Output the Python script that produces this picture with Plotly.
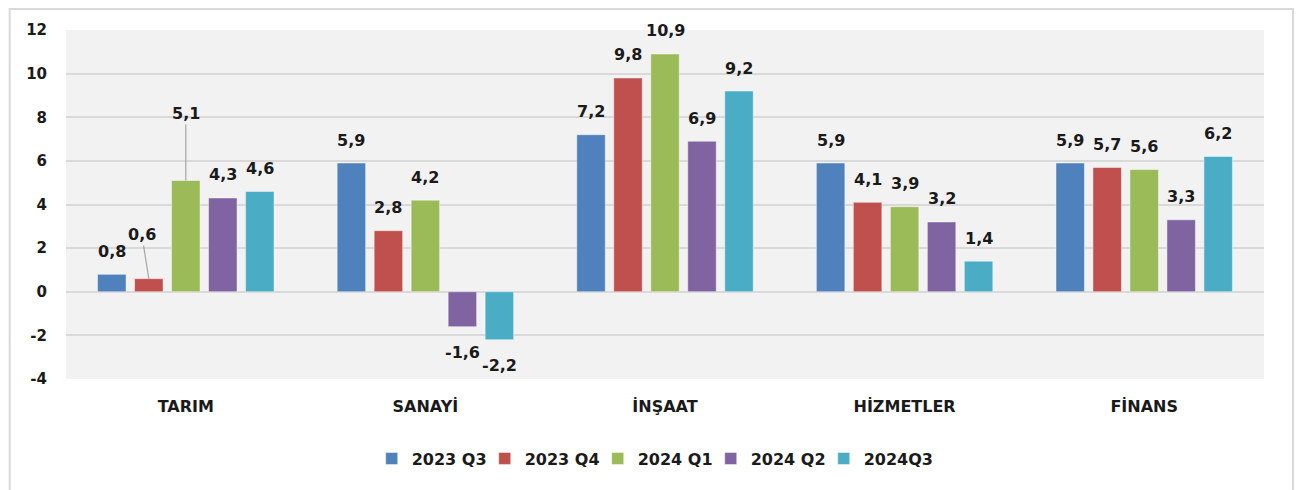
import plotly.graph_objects as go

categories = ["TARIM", "SANAYİ", "İNŞAAT", "HİZMETLER", "FİNANS"]
series_names = ["2023 Q3", "2023 Q4", "2024 Q1", "2024 Q2", "2024Q3"]
q3_2023 = [0.8, 5.9, 7.2, 5.9, 5.9]
q4_2023 = [0.6, 2.8, 9.8, 4.1, 5.7]
q1_2024 = [5.1, 4.2, 10.9, 3.9, 5.6]
q2_2024 = [4.3, -1.6, 6.9, 3.2, 3.3]
q3_2024 = [4.6, -2.2, 9.2, 1.4, 6.2]
series_values = [q3_2023, q4_2023, q1_2024, q2_2024, q3_2024]
colors = ["#4F81BD", "#C0504D", "#9BBB59", "#8064A2", "#4BACC6"]
y_ticks = [-4, -2, 0, 2, 4, 6, 8, 10, 12]

FONT = "DejaVu Sans"
TXT = "#1a1a1a"
BARGAP = 0.228
BARGROUPGAP = 0.23
n = len(series_names)
slot = (1 - BARGAP) / n

xs = list(range(len(categories)))

fig = go.Figure()
annotations = []
for i, (name, vals, col) in enumerate(zip(series_names, series_values, colors)):
    fig.add_trace(go.Bar(
        x=xs, y=vals, name=name,
        marker=dict(color=col, line=dict(color="rgba(255,255,255,0.45)", width=1)),
        hoverinfo="x+y+name",
    ))
    for j, v in enumerate(vals):
        xa = j + (i - (n - 1) / 2) * slot
        label = f"{v:.1f}".replace(".", ",")
        ann = dict(x=xa, y=v, xref="x", yref="y", text=f"<b>{label}</b>",
                   font=dict(family=FONT, size=16, color=TXT), showarrow=False,
                   yanchor="middle", xanchor="center")
        if (j, i) == (0, 1):
            ann.update(showarrow=True, arrowhead=0, arrowwidth=1.2, arrowcolor="#A6A6A6",
                       ax=-7, ay=-44)
        elif (j, i) == (0, 2):
            ann.update(showarrow=True, arrowhead=0, arrowwidth=1.2, arrowcolor="#A6A6A6",
                       ax=0, ay=-67)
        else:
            ann.update(yshift=23 if v >= 0 else -26)
        annotations.append(ann)

fig.update_layout(
    width=1295, height=482,
    margin=dict(l=58, r=39, t=22, b=111),
    paper_bgcolor="white", plot_bgcolor="#F2F2F2",
    barmode="group", bargap=BARGAP, bargroupgap=BARGROUPGAP,
    font=dict(family=FONT, color=TXT),
    annotations=annotations,
    legend=dict(orientation="h", x=0.491, xanchor="center", y=-0.228, yanchor="middle",
                font=dict(family=FONT, size=16, color=TXT, weight="bold"),
                itemwidth=30, traceorder="normal",
                entrywidth=68, entrywidthmode="pixels"),
    shapes=[dict(type="rect", xref="paper", yref="paper",
                 x0=-0.047, x1=1.0242, y0=-0.34, y1=1.06,
                 line=dict(color="#D9D9D9", width=2), layer="below")],
)
fig.update_xaxes(
    range=[-0.5, len(categories) - 0.5],
    tickmode="array", tickvals=xs, ticktext=categories,
    tickfont=dict(family=FONT, size=16, color=TXT, weight="bold"),
    showgrid=False, zeroline=False, showline=False, ticks="",
    ticklabelstandoff=16,
)
fig.update_yaxes(
    range=[-4, 12], tickmode="array", tickvals=y_ticks,
    ticktext=[str(t) for t in y_ticks],
    tickfont=dict(family=FONT, size=15, color=TXT, weight="bold"),
    showgrid=True, gridcolor="#D9D9D9", gridwidth=2,
    zeroline=True, zerolinecolor="#D9D9D9", zerolinewidth=2,
    showline=False, ticks="", ticklabelstandoff=18,
)

fig.write_html("out.html")
